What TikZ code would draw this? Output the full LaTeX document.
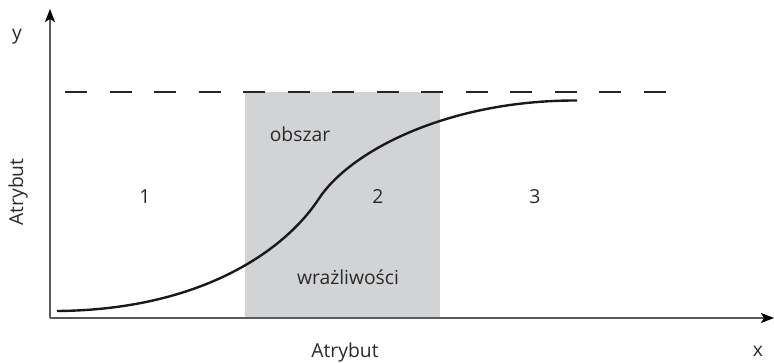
\documentclass[tikz,border=0pt]{standalone}
\usepackage{fontspec}
\setmainfont{Open Sans}
\usetikzlibrary{arrows.meta}
\definecolor{axisgray}{HTML}{5A5A5A}
\definecolor{zonegray}{HTML}{D2D3D5}
\definecolor{textgray}{HTML}{2A2A2A}
\begin{document}
\begin{tikzpicture}[x=1pt,y=-1pt,
  axis/.style={draw=axisgray,line width=1.6pt,-{Stealth[length=13pt,width=10pt,inset=3pt,fill=black,color=black]}},
  lbl/.style={font=\fontsize{19.3}{22}\selectfont,text=textgray,inner sep=0pt},
  curve/.style={draw=black!90,line width=2.4pt},
  limit/.style={draw=black!85,line width=1.2pt,dash pattern=on 22pt off 22.5pt}]
  \useasboundingbox (0,0) rectangle (774,363);
  % sensitivity zone
  \fill[zonegray] (245,92) rectangle (440,317);
  % saturation level
  \coordinate (l0) at (65,92);
  \coordinate (l1) at (666,92);
  \draw[limit] (l0) -- (l1);
  % axes
  \coordinate (o) at (50,318);
  \coordinate (ytip) at (50,9);
  \coordinate (xtip) at (774,318);
  \draw[axis] (o) -- (ytip);
  \draw[axis] (o) -- (xtip);
  % response curve: slow rise, steep middle, saturation
  \draw[curve] (57,311) .. controls (200,310) and (284,251) .. (318,200)
                        .. controls (350,150) and (450,100) .. (577,100.5);
  % labels
  \node[lbl] (ylab) at (17,37) {y};
  \node[lbl] (xlab) at (758,351) {x};
  \node[lbl,rotate=90] (yname) at (18,192) {Atrybut};
  \node[lbl] (xname) at (345,352) {Atrybut};
  \node[lbl] (r1) at (145,197) {1};
  \node[lbl] (r2) at (378,197) {2};
  \node[lbl] (r3) at (535,197) {3};
  \node[lbl] (top) at (300,134) {obszar};
  \node[lbl] (bottom) at (348,277) {wrażliwości};
\end{tikzpicture}
\end{document}
